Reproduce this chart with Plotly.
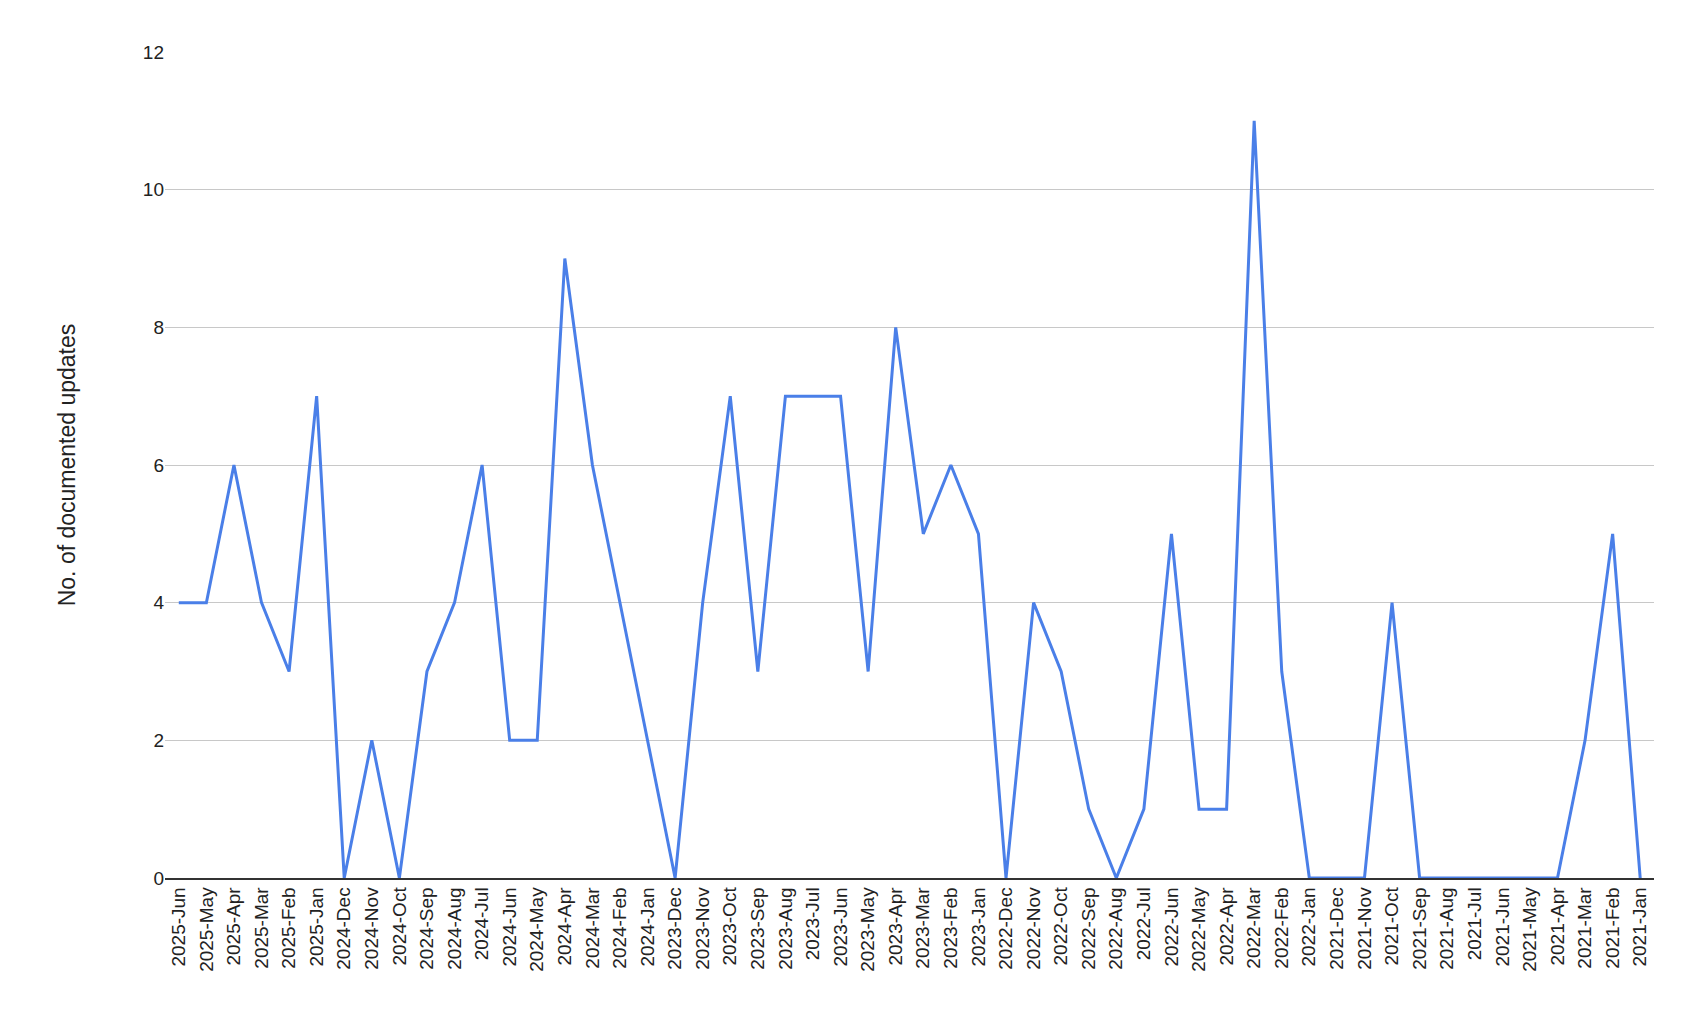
import plotly.graph_objects as go

months = ["2025-Jun", "2025-May", "2025-Apr", "2025-Mar", "2025-Feb", "2025-Jan",
          "2024-Dec", "2024-Nov", "2024-Oct", "2024-Sep", "2024-Aug", "2024-Jul",
          "2024-Jun", "2024-May", "2024-Apr", "2024-Mar", "2024-Feb", "2024-Jan",
          "2023-Dec", "2023-Nov", "2023-Oct", "2023-Sep", "2023-Aug", "2023-Jul",
          "2023-Jun", "2023-May", "2023-Apr", "2023-Mar", "2023-Feb", "2023-Jan",
          "2022-Dec", "2022-Nov", "2022-Oct", "2022-Sep", "2022-Aug", "2022-Jul",
          "2022-Jun", "2022-May", "2022-Apr", "2022-Mar", "2022-Feb", "2022-Jan",
          "2021-Dec", "2021-Nov", "2021-Oct", "2021-Sep", "2021-Aug", "2021-Jul",
          "2021-Jun", "2021-May", "2021-Apr", "2021-Mar", "2021-Feb", "2021-Jan"]
updates = [4, 4, 6, 4, 3, 7,
           0, 2, 0, 3, 4, 6,
           2, 2, 9, 6, 4, 2,
           0, 4, 7, 3, 7, 7,
           7, 3, 8, 5, 6, 5,
           0, 4, 3, 1, 0, 1,
           5, 1, 1, 11, 3, 0,
           0, 0, 4, 0, 0, 0,
           0, 0, 0, 2, 5, 0]

fig = go.Figure(go.Scatter(x=months, y=updates, mode="lines",
                           line=dict(color="#4a7fe8", width=3)))

fig.update_layout(
    width=1694, height=1032,
    paper_bgcolor="white", plot_bgcolor="white",
    font=dict(family="Liberation Sans, Arial", size=19, color="#222"),
    margin=dict(l=157, r=48, t=44, b=162),
    showlegend=False,
)
fig.update_xaxes(tickangle=-90, showgrid=False, showline=True, linecolor="#333",
                 linewidth=1.5, ticks="", range=[-0.5, len(months) - 0.5])
fig.update_yaxes(range=[0, 12], dtick=2, gridcolor="#c8c8c8", zeroline=False,
                 showline=False, ticks="", ticklen=0,
                 title=dict(text="No. of documented updates", standoff=60))

fig.write_html("out.html")
